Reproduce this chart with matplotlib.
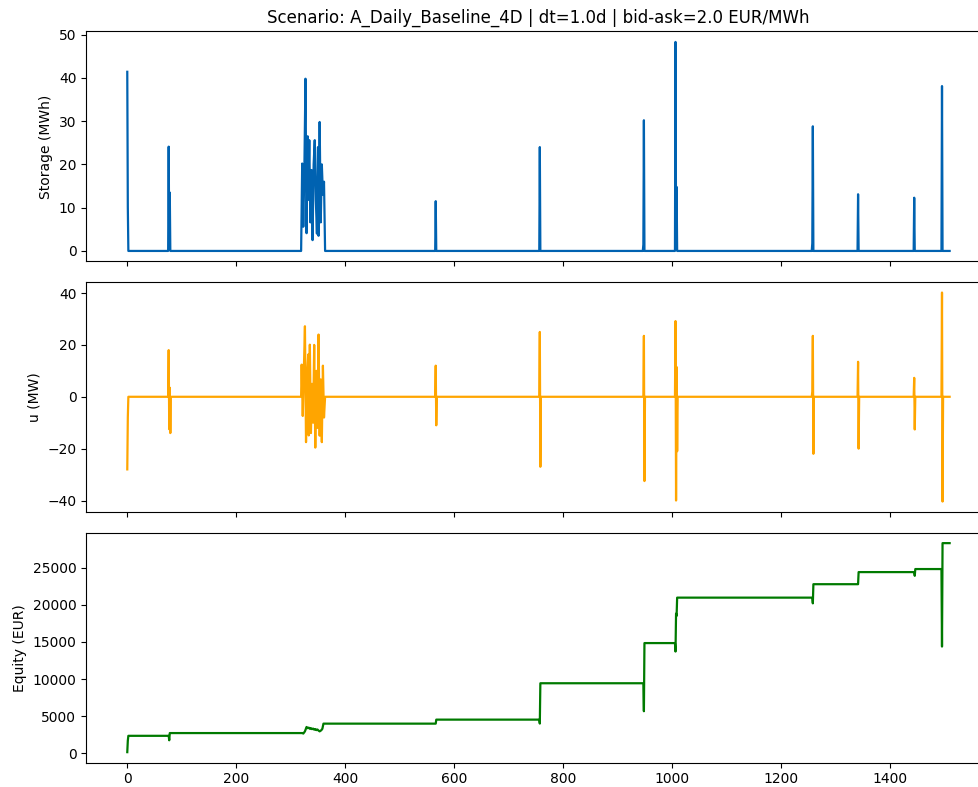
import numpy as np
import matplotlib
matplotlib.use("Agg")
import matplotlib.pyplot as plt

title = "Scenario: A_Daily_Baseline_4D | dt=1.0d | bid-ask=2.0 EUR/MWh"

# storage level (MWh), breakpoints (day, value)
storage_days = [0, 1, 2, 75, 76, 77, 78, 79,
                319, 321, 323, 325, 327, 329, 331, 332, 334, 336, 338, 340,
                342, 344, 346, 348, 350, 351, 353, 355, 357, 359, 361, 363,
                565, 566, 567, 756, 757, 758, 946, 947, 948, 949,
                1005, 1006, 1007, 1008, 1009, 1256, 1257, 1258, 1259,
                1340, 1341, 1342, 1443, 1444, 1445, 1494, 1495, 1496, 1509]
storage_vals = [41.4, 10.2, 0, 0, 24.1, 0.5, 13.5, 0,
                0, 20.2, 5.6, 19.0, 39.8, 4.1, 26.5, 11.8, 25.6, 6.6, 18.7, 2.5,
                20.0, 25.6, 11.8, 4.0, 24.0, 3.5, 29.8, 6.6, 20.0, 13.0, 16.0, 0,
                0, 11.5, 0, 0, 24.0, 0, 0, 1.5, 30.2, 0,
                0, 48.3, 3.5, 14.8, 0, 0, 1.8, 28.8, 0,
                0, 13.1, 0, 0, 12.3, 0, 0, 38.1, 0, 0]

# control u (MW)
u_days = [0, 1, 2, 75, 76, 77, 78, 79, 80,
          319, 320, 322, 324, 326, 328, 330, 332, 333, 335, 337, 339, 341,
          343, 345, 347, 349, 351, 353, 355, 357, 359, 361, 363,
          565, 566, 567, 568, 756, 757, 758, 759, 947, 948, 949, 950,
          1005, 1006, 1007, 1008, 1009, 1010, 1256, 1257, 1258, 1259, 1260,
          1340, 1341, 1342, 1343, 1443, 1444, 1445, 1446,
          1494, 1495, 1496, 1497, 1509]
u_vals = [-28.0, -8.0, 0, 0, 18.0, -12.5, 3.5, -14.0, 0,
          0, 12.4, -7.4, 10.0, 27.2, -17.5, 8.0, 16.3, -14.9, 20.1, -14.0, 5.0, -10.0,
          20.0, -19.6, 10.0, -12.0, 24.0, -15.0, 6.7, -17.5, 12.0, -8.0, 0,
          0, 12.0, -11.0, 0, 0, 25.0, -27.0, 0, 0, 23.5, -32.5, 0,
          0, 29.2, -40.0, 11.5, -21.0, 0, 0, 2.0, 23.5, -22.0, 0,
          0, 13.5, -20.0, 0, 0, 7.3, -12.6, 0,
          0, 40.2, -40.4, 0, 0]

# equity (EUR)
equity_days = [0, 1, 2, 76, 77, 78,
               322, 323, 326, 329, 331, 333, 335, 337, 339, 341, 343, 345,
               347, 349, 351, 353, 356, 358, 360,
               566, 567, 756, 757, 758, 947, 948, 949,
               1005, 1006, 1007, 1008, 1009, 1257, 1258, 1259,
               1341, 1342, 1444, 1445, 1446, 1494, 1495, 1496, 1509]
equity_vals = [150, 1700, 2350, 2350, 1750, 2720,
               2720, 2650, 2950, 3540, 3380, 3450, 3300, 3380, 3250, 3320, 3180,
               3260, 3120, 3200, 3050, 2950, 3100, 3300, 3990,
               3990, 4530, 4530, 4000, 9430, 9430, 5660, 14840,
               14840, 13700, 18800, 18500, 20960, 20960, 20190, 22770,
               22770, 24400, 24400, 23900, 24810, 24810, 14370, 28300, 28300]

fig, (ax1, ax2, ax3) = plt.subplots(3, 1, sharex=True, figsize=(9.79, 7.87))
# the original figure is cut off on the right, so the axes run past the edge
fig.subplots_adjust(left=0.088, right=1.012, top=0.960, bottom=0.031, hspace=0.09)

ax1.plot(storage_days, storage_vals, color="#0062b1", lw=1.6)
ax1.set_ylabel("Storage (MWh)")
ax1.set_title(title)

ax2.plot(u_days, u_vals, color="orange", lw=1.6)
ax2.set_ylabel("u (MW)")

ax3.plot(equity_days, equity_vals, color="#007a00", lw=1.6)
ax3.set_ylabel("Equity (EUR)")

fig.savefig("out.png", dpi=100)
